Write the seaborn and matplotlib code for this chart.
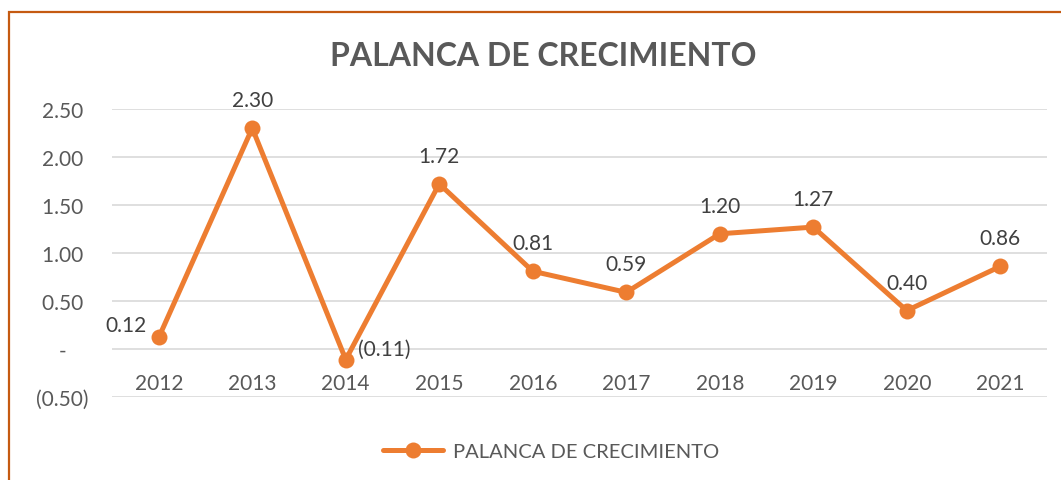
import matplotlib
matplotlib.use("Agg")
import matplotlib.pyplot as plt
import matplotlib.patches as mpatches
import seaborn as sns
import pandas as pd
from matplotlib.ticker import FuncFormatter

years = ["2012", "2013", "2014", "2015", "2016", "2017", "2018", "2019", "2020", "2021"]
values = [0.12, 2.30, -0.11, 1.72, 0.81, 0.59, 1.20, 1.27, 0.40, 0.86]
series_name = "PALANCA DE CRECIMIENTO"
title = "PALANCA DE CRECIMIENTO"
yticks = [-0.5, 0.0, 0.5, 1.0, 1.5, 2.0, 2.5]

sns.set_theme(style="white")
plt.rcParams["font.family"] = ["Lato", "DejaVu Sans"]

ORANGE = "#ED7D31"
TXT = "#404040"
FS = 15

df = pd.DataFrame({"year": years, "value": values, "x": range(len(years))})

fig = plt.figure(figsize=(10.61, 4.81), dpi=100)
ax = fig.add_axes([112/1061, 1-398/481, (1047-112)/1061, (398-110)/481])

for y in yticks:
    ax.axhline(y, color="#D9D9D9", lw=1.2, zorder=0)

sns.lineplot(data=df, x="x", y="value", ax=ax, color=ORANGE, lw=3.6,
             marker="o", markersize=11.5, markeredgewidth=0, label=series_name,
             zorder=3)

ax.set_xlim(-0.5, len(years) - 0.5)
ax.set_ylim(-0.5, 2.5)
ax.set_xticks(range(len(years)))
ax.set_xticklabels(years)
ax.set_yticks(yticks)

def fmt(v, pos):
    if abs(v) < 1e-9:
        return "-    "
    if v < 0:
        return f"({abs(v):.2f})"
    return f"{v:.2f} "
ax.yaxis.set_major_formatter(FuncFormatter(fmt))

for s in ax.spines.values():
    s.set_visible(False)
ax.spines["bottom"].set_position(("data", 0))
ax.tick_params(axis="x", length=0, pad=17, labelsize=FS, labelcolor="#595959")
ax.tick_params(axis="y", length=0, pad=17, labelsize=FS, labelcolor="#595959")
ax.set_xlabel("")
ax.set_ylabel("")

def lab(v):
    return f"({abs(v):.2f})" if v < 0 else f"{v:.2f}"

positions = ["left", "above", "right", "above", "above", "above", "above", "above", "above", "above"]
for i, (v, p) in enumerate(zip(values, positions)):
    if p == "above":
        off, ha, va = (0, 13), "center", "bottom"
    elif p == "left":
        off, ha, va = (-9, 9), "right", "center"
    else:
        off, ha, va = (9, 8), "left", "center"
    ax.annotate(lab(v), (i, v), xytext=off, textcoords="offset points",
                ha=ha, va=va, fontsize=FS, color=TXT, annotation_clip=False)

leg = ax.legend(loc="center", bbox_to_anchor=(551/1061, 1-452/481),
                bbox_transform=fig.transFigure, frameon=False, fontsize=14.5,
                handlelength=3.0, handletextpad=0.5)
for t in leg.get_texts():
    t.set_color("#595959")

fig.text(543/1061, 1-57/481, title, ha="center", va="center",
         fontsize=23, fontweight="bold", color="#595959")

fig.patches.append(mpatches.Rectangle((9/1061, -0.2), 1.2, 1.2 - 13/481,
                                      transform=fig.transFigure, fill=False,
                                      edgecolor="#C55A11", lw=1.6))

fig.savefig("out.png", dpi=100, facecolor="white")
